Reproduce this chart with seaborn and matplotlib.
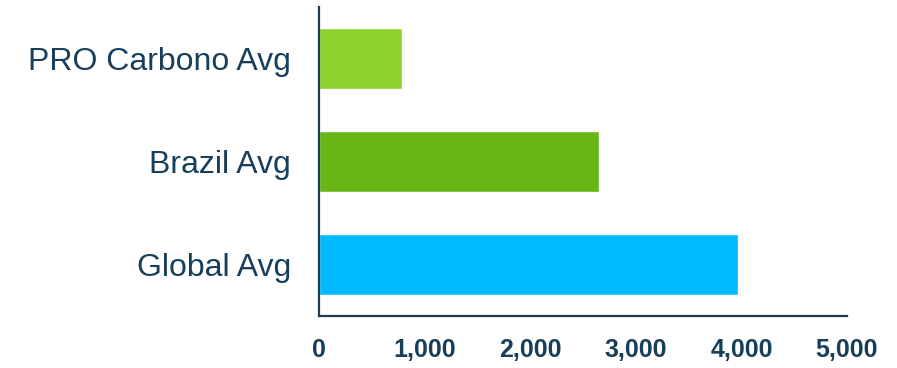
import pandas as pd
import matplotlib.pyplot as plt
import seaborn as sns

# Values
categories = ["PRO Carbono Avg", "Brazil Avg", "Global Avg"]
values = [790, 2650, 3970]
colors = ["#8BD32A", "#68B516", "#00BAFF"]
xticks = [0, 1000, 2000, 3000, 4000, 5000]

sns.set_style("white")
plt.rcParams['font.family'] = ['Liberation Sans', 'DejaVu Sans']

text_color = "#173F5A"
spine_color = "#1F3A4D"

df = pd.DataFrame({"category": categories, "value": values})

fig = plt.figure(figsize=(8.97, 3.68), dpi=100)
ax = fig.add_axes([0.3556, 0.1413, 0.5887, 0.8397])

sns.barplot(data=df, x="value", y="category", hue="category",
            palette=colors, orient="h", width=0.59, legend=False,
            saturation=1, ax=ax)

ax.set_xlim(0, 5000)
ax.set_ylim(2.5, -0.5)
ax.set_xticks(xticks)
ax.set_xticklabels([f"{t:,}" for t in xticks], fontsize=18, fontweight="bold",
                   color=text_color)
ax.tick_params(axis="y", labelsize=23, labelcolor=text_color, length=0, pad=20)
ax.tick_params(axis="x", length=0, pad=16)
ax.set_xlabel("")
ax.set_ylabel("")

sns.despine(ax=ax, top=True, right=True)
for side in ["left", "bottom"]:
    ax.spines[side].set_color(spine_color)
    ax.spines[side].set_linewidth(1.6)

fig.savefig("out.png", dpi=100, facecolor="white")
